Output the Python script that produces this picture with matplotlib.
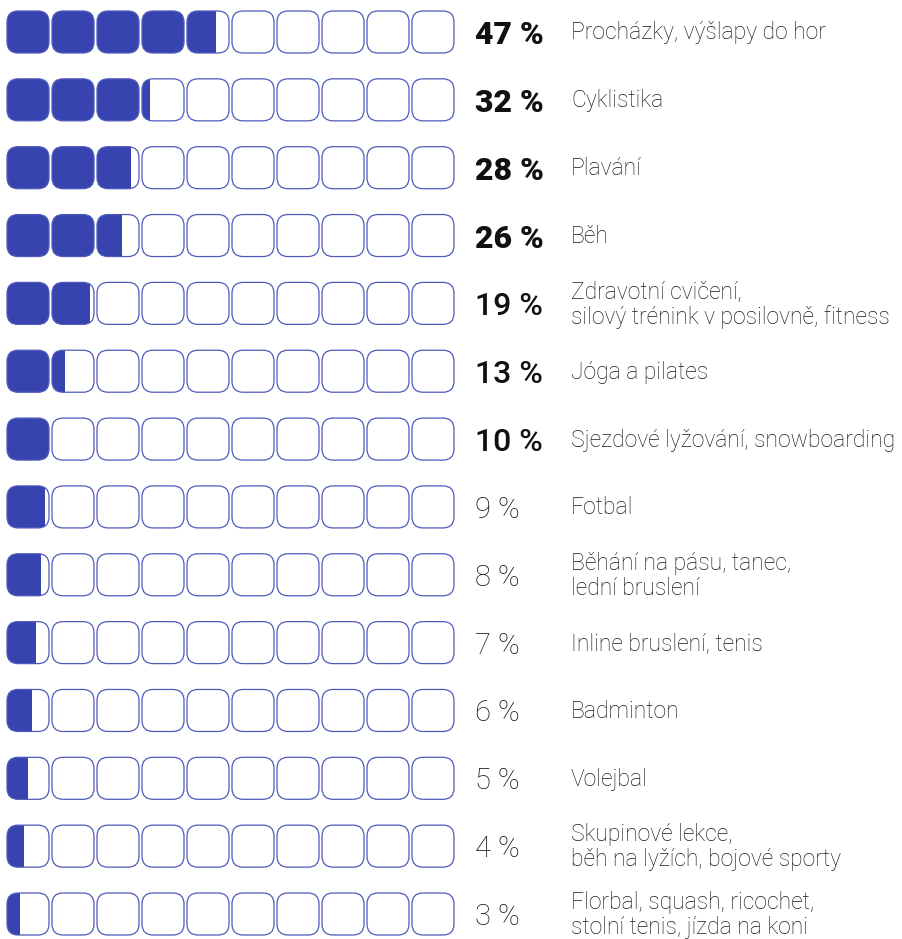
import matplotlib.pyplot as plt
from matplotlib.patches import FancyBboxPatch, Rectangle

# share of respondents per activity (%)
values = [47, 32, 28, 26, 19, 13, 10, 9, 8, 7, 6, 5, 4, 3]
labels = [
    "Procházky, výšlapy do hor",
    "Cyklistika",
    "Plavání",
    "Běh",
    "Zdravotní cvičení,\nsilový trénink v posilovně, fitness",
    "Jóga a pilates",
    "Sjezdové lyžování, snowboarding",
    "Fotbal",
    "Běhání na pásu, tanec,\nlední bruslení",
    "Inline bruslení, tenis",
    "Badminton",
    "Volejbal",
    "Skupinové lekce,\nběh na lyžích, bojové sporty",
    "Florbal, squash, ricochet,\nstolní tenis, jízda na koni",
]

BLUE = "#3743ae"
EDGE = "#4f5abb"
N_BOXES = 10
BOX = 42
STEP = 45
X0 = 7
ROW_TOP = 32
ROW_BOTTOM = 914
ROUND = "round,pad=0,rounding_size=11"

plt.rcParams["font.family"] = ["Roboto", "DejaVu Sans"]

fig = plt.figure(figsize=(9.02, 9.39), dpi=100)
ax = fig.add_axes([0, 0, 1, 1])
ax.set_xlim(0, 902)
ax.set_ylim(939, 0)
ax.axis("off")

row_step = (ROW_BOTTOM - ROW_TOP) / (len(values) - 1)

for r, (val, lab) in enumerate(zip(values, labels)):
    yc = ROW_TOP + r * row_step
    y = yc - BOX / 2
    units = val / 10
    for i in range(N_BOXES):
        x = X0 + i * STEP
        frac = min(max(units - i, 0), 1)
        if frac > 0:
            fill = FancyBboxPatch((x, y), BOX, BOX, boxstyle=ROUND,
                                  facecolor=BLUE, edgecolor="none", zorder=2)
            ax.add_patch(fill)
            if frac < 1:
                clip = Rectangle((x, y - 2), BOX * frac, BOX + 4,
                                 transform=ax.transData)
                fill.set_clip_path(clip)
        outline = FancyBboxPatch((x, y), BOX, BOX, boxstyle=ROUND,
                                 facecolor="none", edgecolor=EDGE,
                                 linewidth=0.9, zorder=3)
        ax.add_patch(outline)

    # heavier type for the most popular activities
    if val >= 20:
        weight, size = "black", 23
    elif val >= 10:
        weight, size = "medium", 23
    else:
        weight, size = "light", 21
    ax.text(475, yc, f"{val} %", fontsize=size, fontweight=weight,
            color="#111111", ha="left", va="center_baseline")
    ax.text(571, yc + 1, lab, fontsize=16.5, fontweight="light",
            color="#1a1a1a", ha="left", va="center", linespacing=1.1)

fig.savefig("out.png", dpi=100, facecolor="white")
